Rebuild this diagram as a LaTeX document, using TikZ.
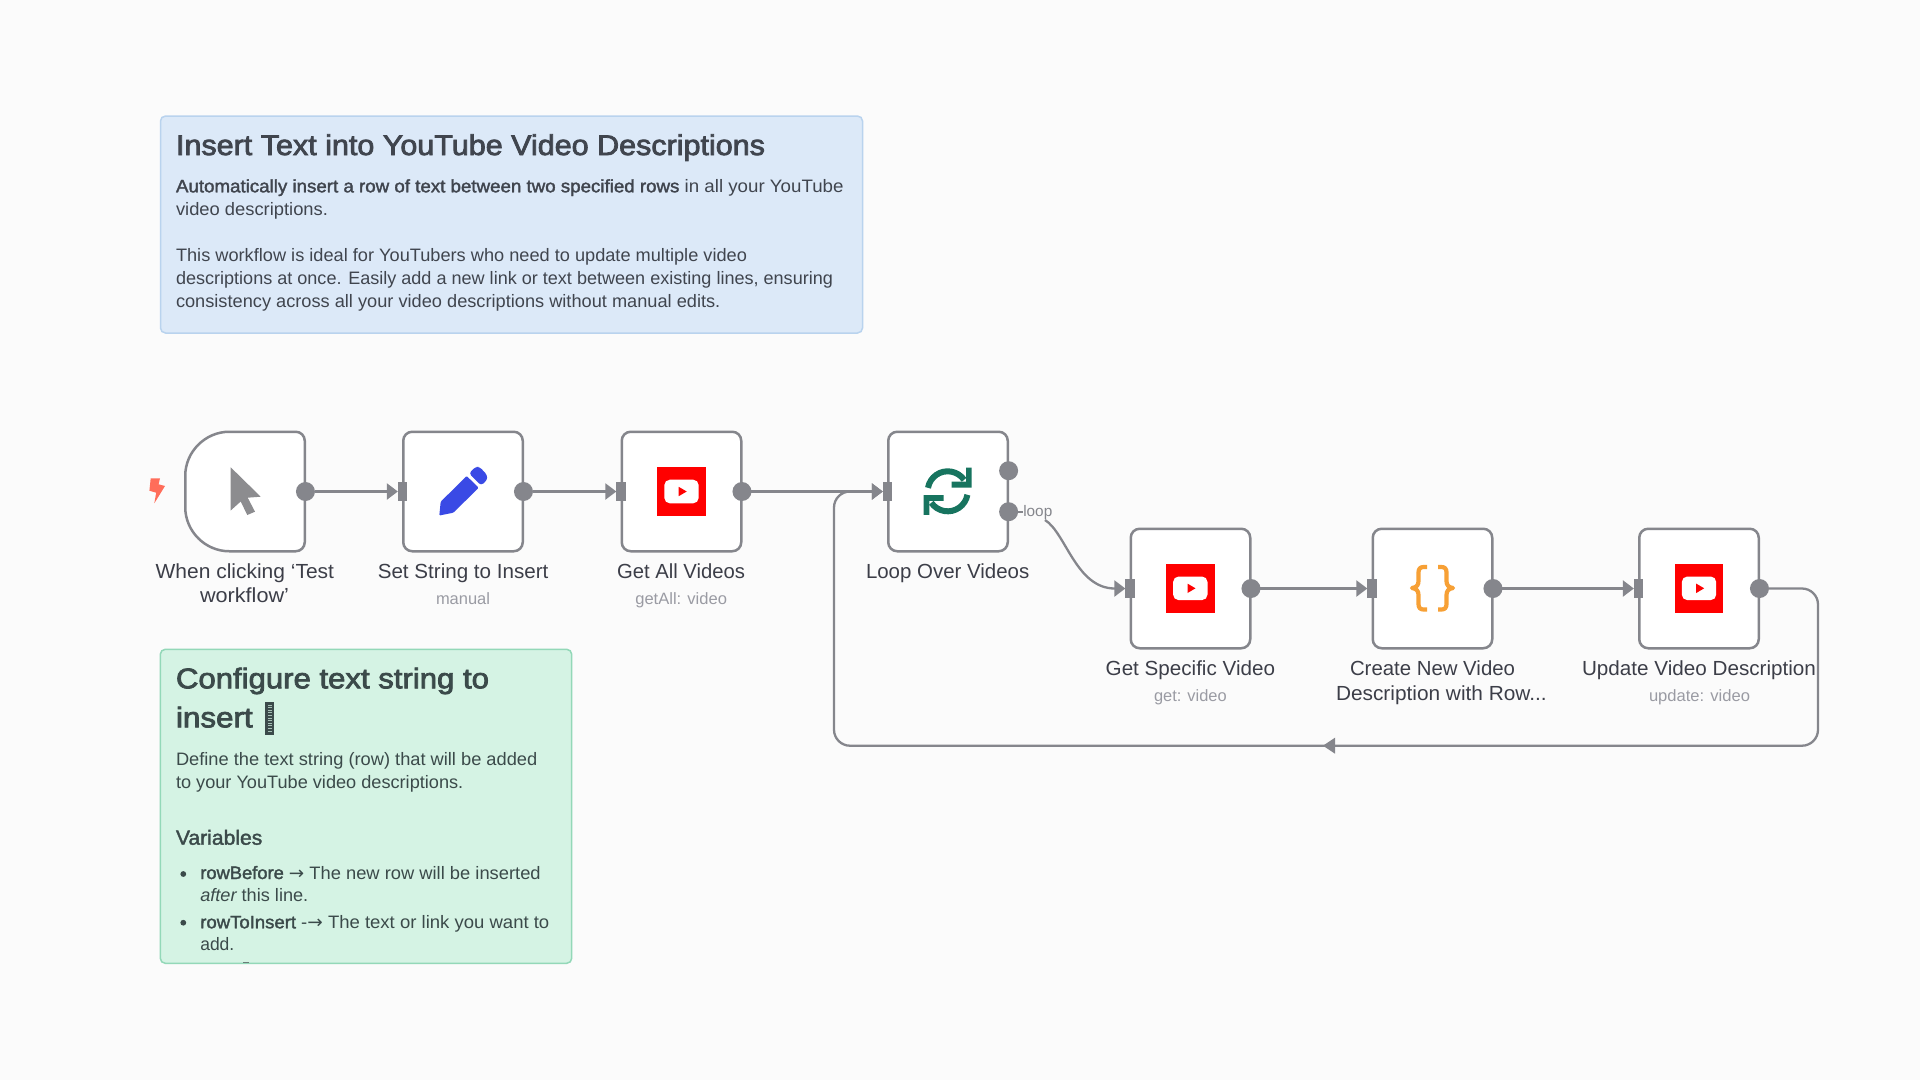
\documentclass[tikz,border=0pt]{standalone}
\usepackage{graphicx}
\usepackage{fontspec}
\usetikzlibrary{arrows.meta}
\setmainfont{Liberation Sans}
\newfontfamily\semifont[FakeBold=1.8]{Liberation Sans}
\newfontfamily\headfont[FakeBold=2.6]{Liberation Sans}
\newfontfamily\arrfont{DejaVu Sans}
\definecolor{bgc}{HTML}{FBFBFB}
\definecolor{bluefill}{HTML}{DCE9F8}
\definecolor{blueline}{HTML}{B9D3EE}
\definecolor{greenfill}{HTML}{D5F3E4}
\definecolor{greenline}{HTML}{93D8B8}
\definecolor{wire}{HTML}{85868C}
\definecolor{ink}{HTML}{3C3E48}
\definecolor{subink}{HTML}{9A9BA3}
\definecolor{noteink}{HTML}{40454E}
\definecolor{greenink}{HTML}{3B4A4A}
\definecolor{boltc}{HTML}{FF6D5A}
\definecolor{cursorc}{HTML}{8C8C8F}
\definecolor{penc}{HTML}{3A4AE5}
\definecolor{loopc}{HTML}{17745F}
\definecolor{bracec}{HTML}{F7A035}
\tikzset{
  x=1pt,y=-1pt,
  txt/.style={inner sep=0pt,outer sep=0pt,anchor=base west},
  title/.style={txt,text=noteink,font=\fontsize{28.5}{32}\selectfont\headfont},
  body/.style={txt,text=noteink,font=\fontsize{18}{20}\selectfont},
  gbody/.style={txt,text=greenink,font=\fontsize{18}{20}\selectfont},
  gtitle/.style={txt,text=greenink,font=\fontsize{28.5}{32}\selectfont\headfont},
  ghead/.style={txt,text=greenink,font=\fontsize{20.5}{24}\selectfont\semifont},
  nlabel/.style={txt,text=ink,font=\fontsize{20.4}{23}\selectfont},
  nsub/.style={txt,text=subink,font=\fontsize{16.4}{19}\selectfont},
  looplab/.style={txt,text=wire,font=\fontsize{15.3}{18}\selectfont},
  note/.style={inner sep=0pt,outer sep=0pt,rounded corners=5pt,line width=1.5pt,anchor=north west},
  wf/.style={draw=wire,fill=white,line width=2.5pt,rounded corners=9pt,minimum width=119.5pt,minimum height=119.5pt,inner sep=0pt,outer sep=0pt},
  outdot/.style={circle,fill=wire,minimum size=19pt,inner sep=0pt,outer sep=0pt},
  inbar/.style={rectangle,fill=wire,minimum width=9.6pt,minimum height=19pt,inner sep=0pt,outer sep=0pt},
  edge/.style={draw=wire,line width=2.3pt,-{Triangle[length=11pt,width=16pt]}},
  plainedge/.style={draw=wire,line width=2.3pt},
}
\newcommand{\tl}[6]{\node[#5] (#1) at (#2,#3) {\resizebox{#4pt}{\height}{#6}};}
\newcommand{\ytube}[1]{%
  \begin{scope}[shift={(#1)}]
    \fill[red] (-24.2,-24.2) rectangle (24.2,24.2);
    \fill[white,rounded corners=5.5pt] (-17.2,-11.8) rectangle (17.2,11.8);
    \fill[red] (-2.8,-4.7) -- (5.2,0) -- (-2.8,4.7) -- cycle;
  \end{scope}}
\begin{document}
\begin{tikzpicture}
\useasboundingbox (0,0) rectangle (1920,1080);
\fill[bgc] (0,0) rectangle (1920,1080);

% blue note
\node[note,draw=blueline,fill=bluefill,minimum width=702pt,minimum height=217pt] (bluenote) at (160.5,116) {};
\tl{b0}{176}{155}{589}{title}{Insert Text into YouTube Video Descriptions}
\tl{b1}{176}{192.3}{667.5}{body}{{\semifont Automatically insert a row of text between two specified rows} in all your YouTube}
\tl{b2}{176}{215}{152}{body}{video descriptions.}
\tl{b3}{176}{261.3}{571}{body}{This workflow is ideal for YouTubers who need to update multiple video}
\tl{b4}{176}{284.3}{657}{body}{descriptions at once. Easily add a new link or text between existing lines, ensuring}
\tl{b5}{176}{307}{544.4}{body}{consistency across all your video descriptions without manual edits.}

% green note
\node[note,draw=greenline,fill=greenfill,minimum width=411.4pt,minimum height=314pt] (greennote) at (160.3,649.3) {};
\tl{g0}{176}{688.3}{313}{gtitle}{Configure text string to}
\tl{g1}{176}{727.3}{76.7}{gtitle}{insert}
\fill[greenink] (265,701.7) rectangle (274.3,735);
\foreach \yy in {705,707.6,...,732}{\draw[greenfill!70!greenink,line width=0.8pt] (268,\yy) -- (271.5,\yy);}
\tl{g2}{176}{765.7}{361.3}{gbody}{Define the text string (row) that will be added}
\tl{g3}{176}{788.3}{287.3}{gbody}{to your YouTube video descriptions.}
\tl{g4}{176}{844.7}{86.3}{ghead}{Variables}
\fill[greenink] (183.3,874) circle (2.9);
\tl{g5}{200.3}{879}{340.4}{gbody}{{\semifont rowBefore} {\arrfont →} The new row will be inserted}
\tl{g6}{200.3}{901}{108}{gbody}{{\itshape after} this line.}
\fill[greenink] (183.3,922.7) circle (2.9);
\tl{g7}{200.3}{928.3}{349}{gbody}{{\semifont rowToInsert} -{\arrfont →} The text or link you want to}
\tl{g8}{200.3}{950}{34}{gbody}{add.}
\draw[greenink!70!greenfill,line width=1pt] (243,962.3) -- (249,962.3);

% workflow nodes
\node[inner sep=0pt,outer sep=0pt,minimum width=119.5pt,minimum height=119.5pt] (n1) at (245,491.5) {};
\draw[draw=wire,fill=white,line width=2.5pt] (n1.north)
  -- ([xshift=-9pt]n1.north east) .. controls ([xshift=-4pt]n1.north east) and ([yshift=-4pt]n1.north east) .. ([yshift=-9pt]n1.north east)
  -- ([yshift=9pt]n1.south east) .. controls ([yshift=4pt]n1.south east) and ([xshift=-4pt]n1.south east) .. ([xshift=-9pt]n1.south east)
  -- ([xshift=44pt]n1.south west) .. controls ([xshift=20pt]n1.south west) and ([yshift=20pt]n1.south west) .. ([yshift=44pt]n1.south west)
  -- ([yshift=-44pt]n1.north west) .. controls ([yshift=-20pt]n1.north west) and ([xshift=20pt]n1.north west) .. ([xshift=44pt]n1.north west)
  -- cycle;

\node[wf] (n2) at (463,491.5) {};
\node[wf] (n3) at (681.5,491.5) {};
\node[wf] (n4) at (948,491.5) {};
\node[wf] (n5) at (1190.5,588.5) {};
\node[wf] (n6) at (1432.5,588.5) {};
\node[wf] (n7) at (1699,588.5) {};

% ports
\node[outdot] (o1) at ([xshift=0.7pt]n1.east) {};
\node[outdot] (o2) at ([xshift=0.7pt]n2.east) {};
\node[outdot] (o3) at ([xshift=0.7pt]n3.east) {};
\node[outdot] (o4a) at (1008.6,470.7) {};
\node[outdot] (o4b) at (1008.6,511.7) {};
\node[outdot] (o5) at ([xshift=0.7pt]n5.east) {};
\node[outdot] (o6) at ([xshift=0.7pt]n6.east) {};
\node[outdot] (o7) at ([xshift=0.7pt]n7.east) {};
\node[inbar] (i2) at ([xshift=-0.6pt]n2.west) {};
\node[inbar] (i3) at ([xshift=-0.6pt]n3.west) {};
\node[inbar] (i4) at ([xshift=-0.6pt]n4.west) {};
\node[inbar] (i5) at ([xshift=-0.6pt]n5.west) {};
\node[inbar] (i6) at ([xshift=-0.6pt]n6.west) {};
\node[inbar] (i7) at ([xshift=-0.6pt]n7.west) {};

% connectors
\draw[edge] (o1) -- (i2);
\draw[edge] (o2) -- (i3);
\draw[edge] (o3) -- (i4);
\draw[edge] (o5) -- (i6);
\draw[edge] (o6) -- (i7);
\tl{lp}{1023.3}{516.7}{29}{looplab}{loop}
\coordinate (lpstub) at (1023,511.7);
\coordinate (lpout) at (1045,520);
\draw[plainedge,line width=2pt] (o4b) -- (lpstub);
\draw[edge] (lpout) .. controls (1066,533) and (1076,588.5) .. (i5.west);
\coordinate (r1) at (1818,588.5);
\coordinate (r2) at (1818,745.7);
\coordinate (r3) at (834,745.7);
\coordinate (r4) at (834,491.5);
\draw[edge,rounded corners=16pt] (o7) -- (r1) -- (r2) -- (r3) -- (r4) -- (i4);
\fill[wire] (1323,745.7) -- (1335,737.7) -- (1335,753.7) -- cycle;

% labels
\tl{l1a}{155.7}{578.3}{178.3}{nlabel}{When clicking ‘Test}
\tl{l1b}{200}{602}{89}{nlabel}{workflow’}
\tl{l2}{377.8}{578.3}{170.6}{nlabel}{Set String to Insert}
\tl{s2}{436}{604.3}{54}{nsub}{manual}
\tl{l3}{617}{578.3}{128}{nlabel}{Get All Videos}
\tl{s3}{635.3}{604.3}{91.7}{nsub}{getAll: video}
\tl{l4}{866}{578.5}{163.3}{nlabel}{Loop Over Videos}
\tl{l5}{1105.7}{675.7}{169.3}{nlabel}{Get Specific Video}
\tl{s5}{1154}{701.7}{72.7}{nsub}{get: video}
\tl{l6a}{1350}{675.7}{165}{nlabel}{Create New Video}
\tl{l6b}{1336}{700}{210.7}{nlabel}{Description with Row...}
\tl{l7}{1582}{675.7}{234}{nlabel}{Update Video Description}
\tl{s7}{1649}{701.7}{101}{nsub}{update: video}

% bolt
\fill[boltc] (150.7,478.3) -- (160,478.3) -- (158.6,484.3) -- (165,486) -- (154.3,503.3) -- (156.2,492.7) -- (149.4,490.7) -- cycle;
% cursor
\fill[cursorc] (230.7,467.3) -- (260.7,496.7) -- (247.7,497.7) -- (255,511.7) -- (247.3,515) -- (240.7,501.5) -- (230.7,510.5) -- cycle;
% pencil
\fill[penc,rounded corners=1pt] (439.3,515.5) -- (440.7,501.7) -- (466.7,476) -- (478.7,487.8) -- (453.3,512.7) -- cycle;
\fill[penc,rounded corners=3pt] (469,473.3) -- (475.5,466.8) -- (479.5,466.8) -- (487.2,475) -- (487.2,480) -- (481,485.5) -- cycle;
% youtube
\ytube{681.5,491.5}
\ytube{1190.3,588.3}
\ytube{1699,588.3}
% loop
\begin{scope}[shift={(947.7,491.3)},x=1pt,y=1pt]
  \foreach \rr in {0,180}{
    \begin{scope}[rotate=\rr]
      \draw[loopc,line width=6pt] (170:20) arc (170:35:20);
      \fill[loopc] (18.3,23.6) -- (24,23.6) -- (24,3.8) -- (4,3.8) -- (4,9.6) -- (18.3,9.6) -- cycle;
    \end{scope}}
\end{scope}
% braces
\draw[bracec,line width=4.2pt,line join=round] (1427,567) -- (1423.5,567) .. controls (1420,567) and (1418.5,569) .. (1418.5,572.5) -- (1418.5,581) .. controls (1418.5,585) and (1416.5,587.6) .. (1412,588) .. controls (1416.5,588.6) and (1418.5,591) .. (1418.5,595) -- (1418.5,604) .. controls (1418.5,607.5) and (1420,609.5) .. (1423.5,609.5) -- (1427,609.5);
\draw[bracec,line width=4.2pt,line join=round] (1438,567) -- (1441.5,567) .. controls (1445,567) and (1446.5,569) .. (1446.5,572.5) -- (1446.5,581) .. controls (1446.5,585) and (1448.5,587.6) .. (1453,588) .. controls (1448.5,588.6) and (1446.5,591) .. (1446.5,595) -- (1446.5,604) .. controls (1446.5,607.5) and (1445,609.5) .. (1441.5,609.5) -- (1438,609.5);
\end{tikzpicture}
\end{document}
